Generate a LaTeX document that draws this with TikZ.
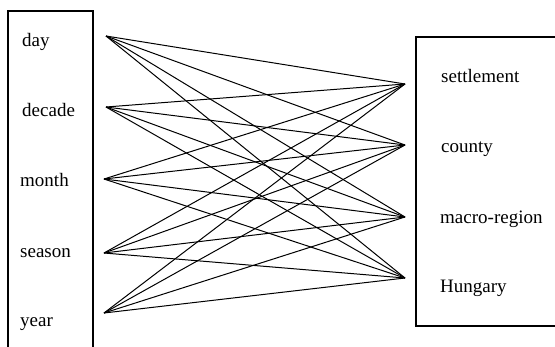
\documentclass[tikz,border=0pt]{standalone}
\usepackage{fontspec}
\setmainfont{Liberation Serif}
\begin{document}
\begin{tikzpicture}[x=1pt,y=-1pt,
  lab/.style={anchor=base west,inner sep=0pt,font=\fontsize{19}{22}\selectfont},
  link/.style={line width=1pt}]
\useasboundingbox (0,0) rectangle (555,346);
\clip (0,0) rectangle (555,346);
% the two frames
\draw[line width=1.1pt] (93,360) -- (93,11) -- (8,11) -- (8,360);
\draw[line width=1.1pt] (570,37) -- (416,37) -- (416,326) -- (570,326);
% time scales
\node[lab] (lday) at (22,46) {day};
\node[lab] (ldecade) at (22,116) {decade};
\node[lab] (lmonth) at (20,186) {month};
\node[lab] (lseason) at (20,257) {season};
\node[lab] (lyear) at (20,326) {year};
\coordinate (day) at (106,36);
\coordinate (decade) at (106,107);
\coordinate (month) at (104,179);
\coordinate (season) at (104,253);
\coordinate (year) at (104,313);
% spatial scales
\node[lab] (lsettle) at (441,82) {settlement};
\node[lab] (lcounty) at (441,152) {county};
\node[lab] (lmacro) at (440,223) {macro-region};
\node[lab] (lhungary) at (440,292) {Hungary};
\coordinate (settle) at (405,84);
\coordinate (county) at (405,145);
\coordinate (macro) at (405,217);
\coordinate (hungary) at (405,278);
% every time scale with every spatial scale
\draw[link] (day) -- (settle);
\draw[link] (day) -- (county);
\draw[link] (day) -- (macro);
\draw[link] (day) -- (hungary);
\draw[link] (decade) -- (settle);
\draw[link] (decade) -- (county);
\draw[link] (decade) -- (macro);
\draw[link] (decade) -- (hungary);
\draw[link] (month) -- (settle);
\draw[link] (month) -- (county);
\draw[link] (month) -- (macro);
\draw[link] (month) -- (hungary);
\draw[link] (season) -- (settle);
\draw[link] (season) -- (county);
\draw[link] (season) -- (macro);
\draw[link] (season) -- (hungary);
\draw[link] (year) -- (settle);
\draw[link] (year) -- (county);
\draw[link] (year) -- (macro);
\draw[link] (year) -- (hungary);
\end{tikzpicture}
\end{document}
